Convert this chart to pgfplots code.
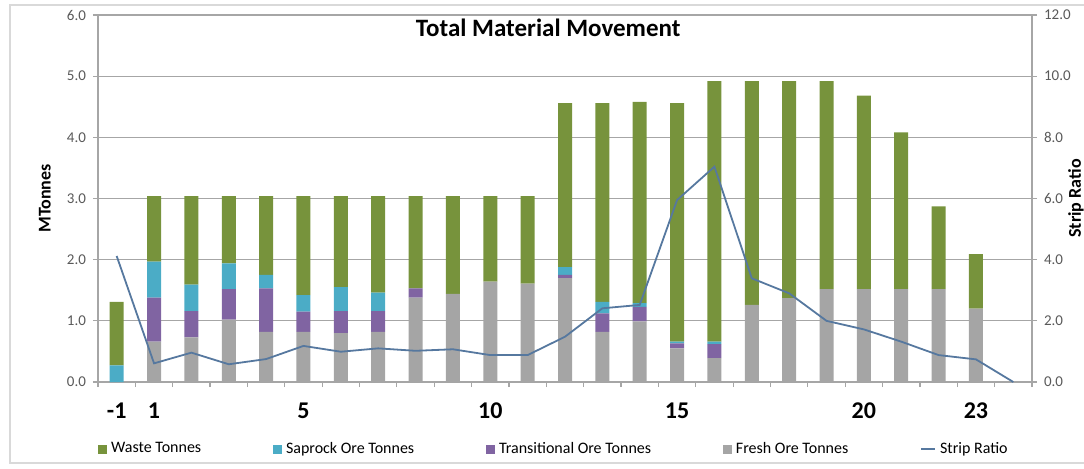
\documentclass[border=0pt]{standalone}
\usepackage{pgfplots}
\pgfplotsset{compat=1.18}
\usepackage{pgfplotstable}
\usepackage{fontspec}
\setmainfont{Carlito}

\definecolor{waste}{HTML}{77933C}
\definecolor{saprock}{HTML}{4BACC6}
\definecolor{trans}{HTML}{8064A2}
\definecolor{fresh}{HTML}{A5A5A5}
\definecolor{ratio}{HTML}{56789F}
\definecolor{gridc}{HTML}{A6A6A6}
\definecolor{labc}{HTML}{595959}

% year index: 0 = year -1, then 1..24
\pgfplotstableread{
yr fresh trans sap  waste sr
0  0.00  0.00  0.27 1.04  4.12
1  0.66  0.72  0.59 1.07  0.61
2  0.73  0.43  0.43 1.45  0.96
3  1.02  0.50  0.42 1.10  0.58
4  0.82  0.71  0.22 1.29  0.75
5  0.82  0.33  0.27 1.62  1.18
6  0.80  0.36  0.39 1.49  0.99
7  0.82  0.34  0.30 1.58  1.10
8  1.38  0.15  0.00 1.51  1.02
9  1.44  0.00  0.00 1.60  1.07
10 1.64  0.00  0.00 1.40  0.88
11 1.61  0.00  0.00 1.43  0.88
12 1.70  0.05  0.13 2.68  1.48
13 0.82  0.30  0.19 3.25  2.41
14 0.99  0.24  0.06 3.29  2.52
15 0.55  0.08  0.03 3.90  5.95
16 0.39  0.23  0.04 4.26  7.04
17 1.26  0.00  0.00 3.66  3.39
18 1.37  0.00  0.00 3.55  2.90
19 1.52  0.00  0.00 3.40  2.00
20 1.52  0.00  0.00 3.16  1.72
21 1.52  0.00  0.00 2.56  1.32
22 1.52  0.00  0.00 1.35  0.88
23 1.20  0.00  0.00 0.89  0.74
24 0.00  0.00  0.00 0.00  0.00
}\mm

\begin{document}
\begin{tikzpicture}
\useasboundingbox (0,0) rectangle (542pt,234pt);
\draw[gray!30, line width=0.6pt] (560pt,231.5pt) -- (5pt,231.5pt) -- (5pt,2.5pt) -- (560pt,2.5pt);

\begin{axis}[
  at={(49pt,43pt)}, anchor=south west,
  scale only axis, width=467pt, height=183.5pt,
  xmin=-0.5, xmax=24.5, ymin=0, ymax=6,
  ybar stacked, bar width=7pt,
  axis x line*=bottom, axis y line*=left,
  axis line style={gridc, line width=0.6pt, -},
  ymajorgrids, grid style={gridc, line width=0.6pt},
  tick align=outside, major tick length=2.5pt, minor tick length=2.5pt,
  tick style={gridc, line width=0.6pt},
  ytick={0,1,...,6},
  yticklabel style={font=\fontsize{7.5}{9}\selectfont, text=labc},
  /pgf/number format/.cd, fixed, fixed zerofill, precision=1, assume math mode=true,
  /pgfplots/.cd,
  xtick={0,1,5,10,15,20,23},
  xticklabels={-1,1,5,10,15,20,23},
  major x tick style={draw=none},
  minor xtick={-0.5,0.5,...,24.5},
  xticklabel style={font=\bfseries\fontsize{12}{14}\selectfont, text=black, yshift=-4.5pt},
  ylabel={MTonnes},
  ylabel style={at={(axis description cs:-0.057,0.5)}, anchor=center,
    font=\bfseries\fontsize{9}{11}\selectfont},
  title={Total Material Movement},
  every axis title shift=0pt,
  title style={at={(axis description cs:0.482,0.965)}, anchor=center, yshift=0pt,
    font=\bfseries\fontsize{12.5}{15}\selectfont},
  legend style={at={(axis description cs:0,-0.1826)}, anchor=west, draw=none,
    fill=none, inner sep=0pt, legend columns=-1,
    font=\fontsize{8}{9}\selectfont,
    /tikz/every even column/.append style={column sep=34pt}},
  legend cell align=left,
]
\addplot[fill=fresh, draw=none, forget plot] table[x=yr, y=fresh] {\mm};
\addplot[fill=trans, draw=none, forget plot] table[x=yr, y=trans] {\mm};
\addplot[fill=saprock, draw=none, forget plot] table[x=yr, y=sap] {\mm};
\addplot[fill=waste, draw=none, forget plot] table[x=yr, y=waste] {\mm};

\addlegendimage{legend image code/.code={\fill[waste] (0pt,-2pt) rectangle (4pt,2pt);}}
\addlegendentry{Waste Tonnes}
\addlegendimage{legend image code/.code={\fill[saprock] (0pt,-2pt) rectangle (4pt,2pt);}}
\addlegendentry{Saprock Ore Tonnes}
\addlegendimage{legend image code/.code={\fill[trans] (0pt,-2pt) rectangle (4pt,2pt);}}
\addlegendentry{Transitional Ore Tonnes}
\addlegendimage{legend image code/.code={\fill[fresh] (0pt,-2pt) rectangle (4pt,2pt);}}
\addlegendentry{Fresh Ore Tonnes}
\addlegendimage{legend image code/.code={\draw[ratio, line width=0.9pt] (0pt,0pt) -- (7pt,0pt);}}
\addlegendentry{Strip Ratio}
\end{axis}

\begin{axis}[
  at={(49pt,43pt)}, anchor=south west,
  scale only axis, width=467pt, height=183.5pt,
  xmin=-0.5, xmax=24.5, ymin=0, ymax=12,
  axis y line*=right, axis x line=none,
  axis line style={gridc, line width=0.6pt, -},
  tick align=outside, major tick length=2.5pt,
  tick style={gridc, line width=0.6pt},
  ytick={0,2,...,12},
  yticklabel style={font=\fontsize{7.5}{9}\selectfont, text=labc},
  /pgf/number format/.cd, fixed, fixed zerofill, precision=1, assume math mode=true,
  /pgfplots/.cd,
  ylabel={Strip Ratio},
  ylabel style={at={(axis description cs:1.047,0.5)}, anchor=center,
    font=\bfseries\fontsize{9}{11}\selectfont},
]
\addplot[ratio, line width=0.9pt, mark=none] table[x=yr, y=sr] {\mm};
\end{axis}
\end{tikzpicture}
\end{document}
